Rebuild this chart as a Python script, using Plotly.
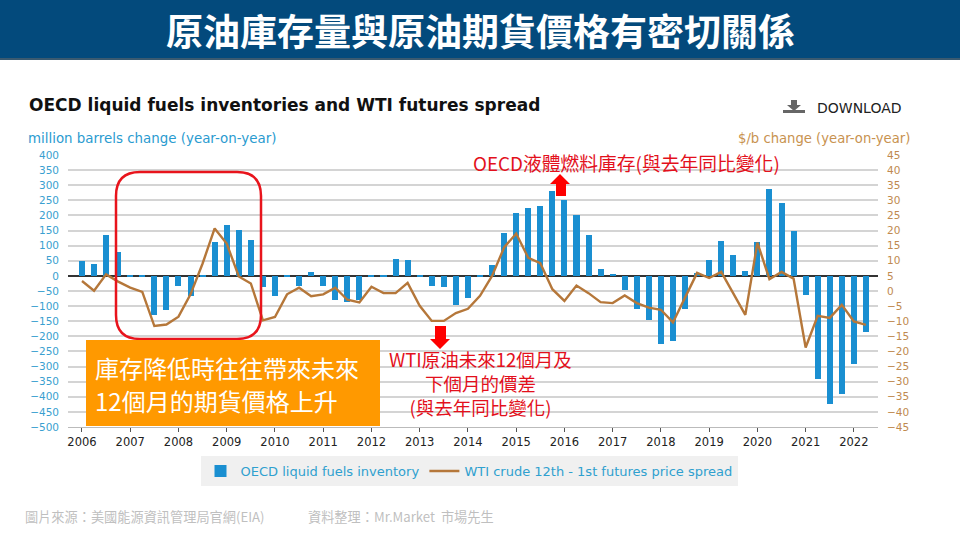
import plotly.graph_objs as go

# quarterly, 2006 Q1 to 2022 Q2
quarters = [2006 + i * 0.25 for i in range(66)]

inventory = [50, 38, 135, 80, -5, -5, -128, -114, -35, -68, -5, 112, 167, 152, 120, -38, -68, -5, -33,
             12, -33, -79, -85, -79, -3, -5, 56, 53, -2, -33, -38, -97, -72, -2, 35, 143, 207, 223, 230,
             281, 250, 200, 134, 22, 6, -47, -111, -145, -226, -215, -108, 8, 52, 114, 70, 15, 111, 287,
             241, 148, -64, -342, -425, -391, -290, -185]

spread = [3.3, 0.1, 5.5, 3.1, 1.1, -0.3, -11.6, -11.1, -8.5, -1.1, 9.1, 20.7, 15.7, 4.8, 2.5, -9.7, -8.6,
          -1.1, 1.1, -1.7, -1.1, 1.1, -2.9, -3.8, 1.4, -0.7, -0.7, 2.7, -4.9, -9.9, -9.9, -7.3, -5.9, -1.6,
          5, 14.4, 19, 11, 9.2, 0.6, -3.3, 1.8, -0.7, -3.7, -4, -1.5, -4, -5.5, -6.2, -10.4, -2.2, 6, 4.3,
          6.3, -0.8, -7.9, 16, 3.9, 6.3, 4.1, -18.7, -8.2, -8.9, -4.6, -10.1, -11.2]

years = list(range(2006, 2023))
left_ticks = list(range(-500, 401, 50))
right_ticks = list(range(-45, 46, 5))

CJK = "Noto Sans CJK TC"
WIDE = "DejaVu Sans"
BLUE = "#1a8fd1"
BROWN = "#b5773a"
RED = "#e3101c"


# positions below are in page pixels
def px(x):
    return x / 960


def py(y):
    return 1 - y / 540


def label(text, x, y, size, color, font=WIDE, anchor="left", bold=False):
    if bold:
        text = "<b>" + text + "</b>"
    # annotations carry 2px of padding
    if anchor == "left":
        x = x - 2
    return dict(text=text, x=px(x), y=py(y), xref="paper", yref="paper", xanchor=anchor, yanchor="middle",
                showarrow=False, font=dict(size=size, color=color, family=font))


def box(x0, y0, x1, y1, color):
    return dict(type="rect", xref="paper", yref="paper", x0=px(x0), x1=px(x1), y0=py(y0), y1=py(y1),
                fillcolor=color, line=dict(width=0), layer="above")


def outline(points, color):
    path = "M " + " L ".join(str(px(a)) + "," + str(py(b)) for a, b in points) + " Z"
    return dict(type="path", xref="paper", yref="paper", path=path, fillcolor=color, line=dict(width=0))


# rounded red frame around 2007-2009
fl, fr, ft, fb, r = 116, 261, 172, 339, 24
frame = ("M {},{} L {},{} Q {},{} {},{} L {},{} Q {},{} {},{} L {},{} Q {},{} {},{} L {},{} Q {},{} {},{} Z"
         .format(px(fl + r), py(ft), px(fr - r), py(ft), px(fr), py(ft), px(fr), py(ft + r),
                 px(fr), py(fb - r), px(fr), py(fb), px(fr - r), py(fb),
                 px(fl + r), py(fb), px(fl), py(fb), px(fl), py(fb - r),
                 px(fl), py(ft + r), px(fl), py(ft), px(fl + r), py(ft)))

shapes = [
    box(0, 0, 960, 60, "#034a7c"),
    box(0, 58, 960, 60, "#3a5a70"),
    dict(type="path", xref="paper", yref="paper", path=frame, line=dict(color="#e8141c", width=2.5)),
    box(86, 340, 380, 426, "#ff9900"),
    outline([(560, 174), (570, 184), (566, 184), (566, 196), (556, 196), (556, 184), (550, 184)], "#fe0000"),
    outline([(440, 349), (450, 339), (446, 339), (446, 326), (435, 326), (435, 339), (430, 339)], "#fe0000"),
    # download icon
    outline([(791, 100), (797, 100), (797, 105), (801, 105), (794, 111), (787, 105), (791, 105)], "#666666"),
    box(783, 110, 805, 113, "#666666"),
]

annotations = [
    label("原油庫存量與原油期貨價格有密切關係", 480, 30, 37, "white", CJK, "center", True),
    label("OECD liquid fuels inventories and WTI futures spread", 29, 105, 17, "#111111", WIDE, "left", True),
    label("DOWNLOAD", 817, 108, 14, "#222222"),
    label("million barrels change (year-on-year)", 28, 138, 13.4, "#2a9bd0"),
    label("$/b change (year-on-year)", 738, 138, 13.2, "#c8924f"),
    label("OECD液體燃料庫存(與去年同比變化)", 473, 162, 18.8, RED, CJK),
    label("WTI原油未來12個月及<br>下個月的價差<br>(與去年同比變化)", 480, 383, 18.5, RED, CJK, "center"),
    label("庫存降低時往往帶來未來", 95, 367, 24, "white", CJK),
    label("12個月的期貨價格上升", 95, 400, 24, "white", CJK),
    label("圖片來源：美國能源資訊管理局官網(EIA)", 25, 516, 13.2, "#bfbfbf", CJK),
    label("資料整理：Mr.Market  市場先生", 308, 516, 13.2, "#bfbfbf", CJK),
]

bars = go.Bar(x=quarters, y=inventory, name="OECD liquid fuels inventory", marker=dict(color=BLUE, line=dict(width=0)),
              width=0.125, yaxis="y")
line = go.Scatter(x=quarters, y=spread, name="WTI crude 12th - 1st futures price spread", mode="lines",
                  line=dict(color=BROWN, width=2.4), yaxis="y2")

layout = go.Layout(
    width=960, height=540, autosize=False,
    margin=dict(l=0, r=0, t=0, b=0, autoexpand=False),
    paper_bgcolor="white", plot_bgcolor="white",
    font=dict(family=WIDE),
    shapes=shapes, annotations=annotations,
    xaxis=dict(domain=[px(68), px(878)], range=[2005.71, 2022.5], tickvals=years, ticks="outside", ticklen=4,
               tickcolor="#555555", showgrid=False, zeroline=False, showline=True, linecolor="#bbbbbb",
               tickfont=dict(size=11.5, color="#222222")),
    yaxis=dict(domain=[py(427), py(155)], range=[-500, 400], tickvals=left_ticks, gridcolor="#d4d4d4", gridwidth=1.5,
               zeroline=True, zerolinecolor="#333333", zerolinewidth=1.5, ticklabelstandoff=8,
               tickfont=dict(size=10.5, color="#3a9fd0")),
    yaxis2=dict(domain=[py(427), py(155)], range=[-45, 45], tickvals=right_ticks, overlaying="y", side="right",
                showgrid=False, zeroline=False, ticklabelstandoff=8, tickfont=dict(size=10.5, color="#c08a4f")),
    legend=dict(orientation="h", x=px(469), y=py(471), xanchor="center", yanchor="middle", bgcolor="#f0f0f0",
                font=dict(size=13, color="#2fa0cf")),
    bargap=0,
)

fig = go.Figure(data=[bars, line], layout=layout)
fig.write_html("out.html", config=dict(displayModeBar=False), post_script="document.body.style.margin='0';")
